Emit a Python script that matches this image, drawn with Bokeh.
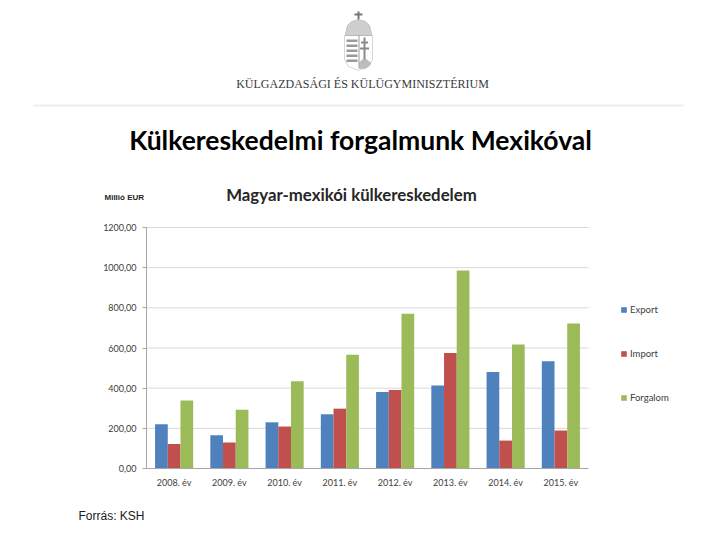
from bokeh.plotting import figure
from bokeh.models import (Label, Legend, LegendItem, CustomJSTickFormatter, LinearAxis,
                          FixedTicker, BoxAnnotation, PolyAnnotation, ColumnDataSource, Range1d)
from bokeh.transform import dodge
from bokeh.embed import file_html
from bokeh.resources import INLINE

years = ["2008. év", "2009. év", "2010. év", "2011. év",
         "2012. év", "2013. év", "2014. év", "2015. év"]
export = [220, 166, 230, 270, 381, 413, 481, 534]
imports = [122, 129, 209, 298, 391, 575, 139, 189]
forgalom = [338, 293, 434, 566, 770, 986, 618, 722]
series = ["Export", "Import", "Forgalom"]
colors = ["#4F81BD", "#C0504D", "#9BBB59"]
y_ticks = [0, 200, 400, 600, 800, 1000, 1200]

W, H = 704, 524
# chart area in canvas pixels: x 146..588, y 227..468
CL, CR, CT, CB = 146, 588, 227, 468
n = len(years)
y_max = y_ticks[-1]
px_x = (CR - CL) / n
px_y = (CB - CT) / y_max
x_range = Range1d(-CL / px_x, (W - CL) / px_x)
y_range = Range1d(-(H - CB) / px_y, y_max + CT / px_y)

def sx(X):
    return X

def sy(Y):
    return H - Y

centers = [i + 0.5 for i in range(n)]
src = ColumnDataSource(dict(xc=centers, export=export, imports=imports, forgalom=forgalom))

p = figure(width=W, height=H, x_range=x_range, y_range=y_range,
           output_backend="svg", toolbar_location=None,
           x_axis_location=None, y_axis_location=None,
           min_border=0)
p.outline_line_color = None
p.background_fill_color = "white"
p.border_fill_color = "white"
p.grid.visible = False

# horizontal gridlines across the chart area only
p.segment(x0=0, x1=n, y0=y_ticks[1:], y1=y_ticks[1:], line_color="#D9D9D9", line_width=1)

bw = 0.23
r1 = p.vbar(x=dodge("xc", -bw), top="export", width=bw, source=src,
            fill_color=colors[0], line_color=None)
r2 = p.vbar(x=dodge("xc", 0), top="imports", width=bw, source=src,
            fill_color=colors[1], line_color=None)
r3 = p.vbar(x=dodge("xc", bw), top="forgalom", width=bw, source=src,
            fill_color=colors[2], line_color=None)

xaxis = LinearAxis(fixed_location=0, bounds=(0, n), ticker=FixedTicker(ticks=centers),
                   formatter=CustomJSTickFormatter(args=dict(labels=years),
                                                   code="return labels[Math.floor(tick)];"))
yaxis = LinearAxis(fixed_location=0, bounds=(0, y_max), ticker=FixedTicker(ticks=y_ticks),
                   formatter=CustomJSTickFormatter(code="return tick.toFixed(2).replace('.', ',');"))
for ax in (xaxis, yaxis):
    ax.axis_line_color = "#A6A6A6"
    ax.major_label_text_font = "Lato"
    ax.major_label_text_font_size = "9px"
    ax.major_label_text_color = "#404040"
    ax.minor_tick_line_color = None
yaxis.major_tick_line_color = "#A6A6A6"
yaxis.major_tick_out = 4
yaxis.major_tick_in = 0
yaxis.major_label_standoff = 6
xaxis.major_tick_line_color = None
xaxis.major_tick_out = 0
xaxis.major_tick_in = 0
xaxis.major_label_standoff = 8
p.add_layout(xaxis, "below")
p.add_layout(yaxis, "left")

leg_top, leg_h = 303, 100
legend = Legend(items=[LegendItem(label=s, renderers=[r]) for s, r in zip(series, [r1, r2, r3])],
                location=(620, H - (leg_top + leg_h)), padding=0, margin=0,
                border_line_color=None, background_fill_alpha=0,
                glyph_width=7, glyph_height=7, label_height=12, label_standoff=3,
                spacing=32, label_text_font="Lato", label_text_font_size="9.5px",
                label_text_color="#404040")
p.add_layout(legend)

def lab(text, X, Y, size, font="Lato", style="normal", color="#000000", align="center"):
    p.add_layout(Label(x=sx(X), y=sy(Y), x_units="screen", y_units="screen", text=text,
                       text_font=font, text_font_size=size, text_font_style=style,
                       text_color=color, text_align=align, text_baseline="middle"))

lab("Külkereskedelmi forgalmunk Mexikóval", 360, 139, "26.5px", style="bold")
lab("Magyar-mexikói külkereskedelem", 351, 194, "16.8px", style="bold", color="#262626")
lab("Millió EUR", 104, 197, "8px", font="Liberation Sans", style="bold", color="#262626", align="left")
lab("Forrás: KSH", 78, 515, "12px", font="Liberation Sans", color="#202020", align="left")
lab("KÜLGAZDASÁGI ÉS KÜLÜGYMINISZTÉRIUM", 362, 83, "12px", font="Liberation Serif",
    color="#3A3A3A")

def box(l, r, t, b, color):
    p.add_layout(BoxAnnotation(left=sx(l), right=sx(r), top=sy(t), bottom=sy(b),
                               left_units="screen", right_units="screen",
                               top_units="screen", bottom_units="screen",
                               fill_color=color, fill_alpha=1, line_color=None))

def poly(xs, ys, fill, line="#777777"):
    p.add_layout(PolyAnnotation(xs=[sx(v) for v in xs], ys=[sy(v) for v in ys],
                                xs_units="screen", ys_units="screen",
                                fill_color=fill, fill_alpha=1, line_color=line, line_width=1))

# separator line
box(33, 683, 104, 106, "#EDEDED")

# simple coat-of-arms decoration
poly([344, 372, 372, 368, 358, 348, 344], [35, 35, 59, 66, 70, 66, 59], "white")
poly([345, 347, 351, 358, 365, 369, 371, 371, 345], [33, 25, 21, 19, 21, 25, 33, 35, 35], "#CFCFCF")
box(357, 359, 11, 19, "#777777")
box(354, 362, 13, 15, "#777777")
for yy in [39, 44, 49, 54, 59]:
    box(346, 357, yy, yy + 2.5, "#9A9A9A")
box(358, 359, 35, 68, "#999999")
box(363, 365, 37, 60, "#8A8A8A")
for yy, hw in [(41, 3.5), (47, 4.5)]:
    box(364 - hw, 364 + hw, yy, yy + 2, "#8A8A8A")
poly([359, 362, 366, 370, 370, 365, 359], [62, 59, 59, 62, 64, 68, 68], "#BDBDBD", line="#999999")

open("out.html", "w").write(file_html(p, INLINE))
